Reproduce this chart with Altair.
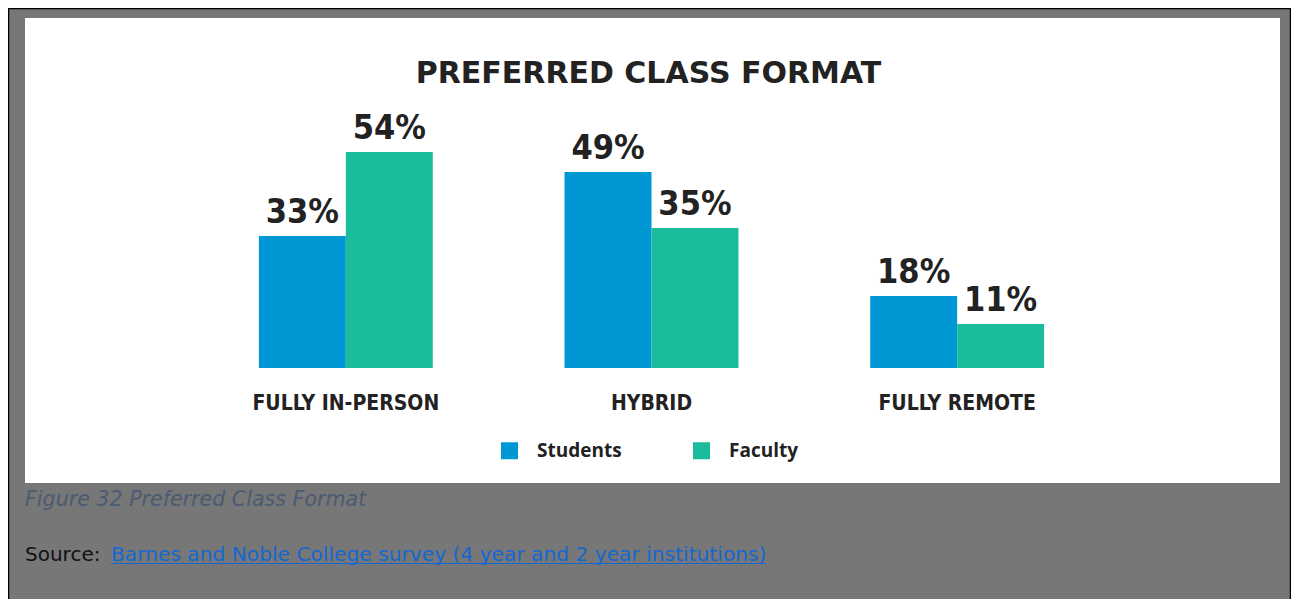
import altair as alt
import pandas as pd

categories = ["FULLY IN-PERSON", "HYBRID", "FULLY REMOTE"]
groups = ["Students", "Faculty"]
students = [33, 49, 18]
faculty = [54, 35, 11]
colors = ["#0098d4", "#1bbc9c"]

title_text = "PREFERRED CLASS FORMAT"
caption_text = "Figure 32 Preferred Class Format"
source_label = "Source:"
source_link = "Barnes and Noble College survey (4 year and 2 year institutions)"

rows = []
for c, s, f in zip(categories, students, faculty):
    rows.append({"category": c, "group": "Students", "value": s, "label": f"{s}%"})
    rows.append({"category": c, "group": "Faculty", "value": f, "label": f"{f}%"})
df = pd.DataFrame(rows)
cat_df = pd.DataFrame({"category": categories})
one = pd.DataFrame({"k": [0]})

COND = "DejaVu Sans Condensed, Roboto Condensed, Roboto, sans-serif"

# layout (canvas = 1283 x 591, plot area offset left 185, top 120)
W, H = 917, 240
PL, PT = 185, 120
CW, CH = 1283, 591

xscale = alt.Scale(domain=categories, paddingInner=0.431, paddingOuter=0.2155)
x_enc = alt.X("category:N", sort=categories, scale=xscale,
              axis=alt.Axis(title=None, labels=False, ticks=False, domain=True,
                            domainColor="#d9d9d9", domainWidth=2, grid=False))
xoff = alt.XOffset("group:N", sort=groups, scale=alt.Scale(domain=groups, paddingInner=0, paddingOuter=0))
y_enc = alt.Y("value:Q", scale=alt.Scale(domain=[0, 60], nice=False), axis=None)

panel = alt.Chart(one).mark_rect(color="white").encode(
    x=alt.value(17 - PL), x2=alt.value(1272 - PL),
    y=alt.value(10 - PT), y2=alt.value(475 - PT),
)
border = alt.Chart(one).mark_rect(fillOpacity=0, stroke="black", strokeWidth=1.5).encode(
    x=alt.value(-PL + 0.5), x2=alt.value(CW - PL - 0.5),
    y=alt.value(-PT + 0.5), y2=alt.value(CH - PT + 5),
)

bars = alt.Chart(df).mark_bar().encode(
    x=x_enc, xOffset=xoff, y=y_enc,
    color=alt.Color("group:N", sort=groups,
                    scale=alt.Scale(domain=groups, range=colors),
                    legend=alt.Legend(orient="none", legendX=307, legendY=313,
                                      direction="horizontal", title=None,
                                      symbolType="square", symbolSize=289,
                                      symbolStrokeWidth=0, symbolOpacity=1,
                                      labelFont="Open Sans", labelFontWeight="bold",
                                      labelFontSize=19, labelColor="#222222",
                                      labelOffset=18, columnPadding=70, padding=0)),
)

value_labels = alt.Chart(df).mark_text(
    font=COND, fontWeight="bold", fontSize=34,
    color="#222222", baseline="alphabetic", dy=-13,
).encode(x=alt.X("category:N", sort=categories, scale=xscale), xOffset=xoff,
         y=y_enc, text="label:N")

cat_labels = alt.Chart(cat_df).mark_text(
    font=COND, fontWeight="bold", fontSize=21,
    color="#222222", baseline="alphabetic",
).encode(x=alt.X("category:N", sort=categories, scale=xscale),
         y=alt.value(402 - PT), text="category:N")

title = alt.Chart(pd.DataFrame({"t": [title_text]})).mark_text(
    font="DejaVu Sans", fontWeight="bold", fontSize=30, color="#222222",
    baseline="alphabetic", align="center",
).encode(x=alt.value(455.5), y=alt.value(-45), text="t:N")

caption = alt.Chart(pd.DataFrame({"t": [caption_text]})).mark_text(
    font="DejaVu Sans", fontStyle="italic", fontSize=20.6, color="#4b5b73",
    baseline="alphabetic", align="left",
).encode(x=alt.value(17 - PL), y=alt.value(378), text="t:N")

src1 = alt.Chart(pd.DataFrame({"t": [source_label]})).mark_text(
    font="DejaVu Sans", fontSize=20, color="#111111",
    baseline="alphabetic", align="left",
).encode(x=alt.value(17 - PL), y=alt.value(433), text="t:N")

src2 = alt.Chart(pd.DataFrame({"t": [source_link]})).mark_text(
    font="DejaVu Sans", fontSize=20.2, color="#1467d2",
    baseline="alphabetic", align="left",
).encode(x=alt.value(-82), y=alt.value(433), text="t:N")

underline = alt.Chart(one).mark_rule(color="#1467d2", strokeWidth=1.2).encode(
    x=alt.value(-82), x2=alt.value(573), y=alt.value(435.5))

chart = alt.layer(
    panel, border, bars, value_labels, cat_labels, title, caption, src1, src2, underline
).properties(
    width=W, height=H,
    padding={"left": PL, "top": PT, "right": CW - PL - W, "bottom": CH - PT - H},
    autosize=alt.AutoSizeParams(type="none"),
    background="#777777",
).configure_view(stroke=None)

chart.save("out.html", embed_options={"renderer": "svg", "actions": False})
